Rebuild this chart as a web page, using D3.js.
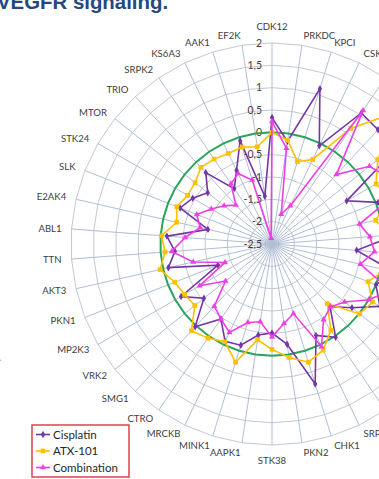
<!DOCTYPE html>
<html>
<head>
<meta charset="utf-8">
<script src="https://cdn.jsdelivr.net/npm/d3@7/dist/d3.min.js"></script>
<style>
  html, body { margin: 0; padding: 0; background: #ffffff; overflow: hidden; }
  svg { display: block; }
</style>
</head>
<body>
<svg id="chart" width="379" height="479"></svg>
<script>
// Kinase axes, clockwise from the top
const categories = [
  "CDK12", "PRKDC", "KPCI", "CSK", "KSYK", "FAK1", "MK01", "MK03", "PAK4", "KPCA",
  "EPHA2", "FGFR1", "VGFR2", "SRC", "PLCG1", "MP2K1", "BRAF", "PDPK1", "SRPK1", "CHK1",
  "PKN2", "STK38", "AAPK1", "MINK1", "MRCKB", "CTRO", "SMG1", "VRK2", "MP2K3", "PKN1",
  "AKT3", "TTN", "ABL1", "E2AK4", "SLK", "STK24", "MTOR", "TRIO", "SRPK2", "KS6A3",
  "AAK1", "EF2K"
];

const cisplatin = [
   0.33, -0.18,  1.14, -0.06,  1.05,  0.99,  1.50, -0.57,  0.05,  0.20,
   0.30, -0.60,  0.30,  0.00,  0.29, -0.21, -0.59,  0.03, -0.23,  0.78,
  -0.23, -0.51, -0.44, -0.13, -0.08, -0.47,  0.03, -0.55, -0.15, -1.20,
  -0.12, -0.32, -0.14, -1.03, -0.29, -0.45, -0.66, -0.32, -1.00, -0.67,
  -0.08, -1.42
];

const atx101 = [
   0.00, -0.15, -0.57, -0.40,  0.63,  1.50,  0.53,  0.19,  0.30, -0.12,
   0.15,  0.20,  0.10, -0.19,  0.10,  0.01, -0.68, -0.16,  0.14,  0.27,
   0.07, -0.14, -0.33,  0.27, -0.07,  0.05,  0.15, -0.29, -0.24, -0.16,
   0.07, -0.10, -0.02, -0.31, -0.21, -0.32, -0.30, -0.16, -0.20, -0.25,
  -0.23, -0.30
];

const combination = [
   0.24, -0.33, -1.80, -1.55,  1.12, -0.38,  0.29,  0.50,  0.40, -0.49,
  -0.30, -0.20, -0.47,  0.35,  0.00, -0.42, -0.58, -0.45,  0.05, -0.87,
  -0.70, -0.42, -0.74, -0.66, -0.30, -0.47, -0.60, -1.17, -0.63, -1.37,
  -0.69, -0.25, -0.55, -0.85, -0.69, -0.93, -1.13, -1.31, -0.87, -0.75,
  -1.00, -2.37
];

const ringValues = [-2.5, -2, -1.5, -1, -0.5, 0, 0.5, 1, 1.5, 2];
const tickLabels = ["-2,5", "-2", "-1,5", "-1", "-0,5", "0", "0,5", "1", "1,5", "2"];

const seriesNames = ["Cisplatin", "ATX-101", "Combination"];
const seriesColors = ["#7436a6", "#ffc000", "#f03ee6"];
const seriesShapes = [d3.symbolDiamond, d3.symbolSquare, d3.symbolTriangle];
const seriesData = [cisplatin, atx101, combination];
const baselineValue = 0;

const W = 379, H = 479;
const svg = d3.select("#chart");
const cx = 272, cy = 244, R = 201;

const r = d3.scaleLinear().domain([-2.5, 2]).range([0, R]);
const angle = d3.scaleLinear().domain([0, categories.length]).range([0, 2 * Math.PI]);
const idx = d3.range(categories.length);

const g = svg.append("g").attr("transform", `translate(${cx},${cy})`);

// Heading (runs off the top edge of the panel)
svg.append("text")
  .attr("x", -3).attr("y", 9)
  .attr("font-family", "'Liberation Sans', Arial, sans-serif")
  .attr("font-weight", "bold")
  .attr("font-size", 20.4)
  .attr("fill", "#24487f")
  .text("VEGFR signaling.");

// Stray full stop of the caption column at the left edge
svg.append("text")
  .attr("x", -2).attr("y", 361)
  .attr("font-family", "'Liberation Sans', Arial, sans-serif")
  .attr("font-size", 12)
  .attr("fill", "#333333")
  .text(".");

// Spider-web rings
const ringLine = d3.lineRadial()
  .angle(i => angle(i))
  .curve(d3.curveLinearClosed);

g.selectAll("path.ring")
  .data(ringValues.slice(1))
  .join("path")
  .attr("class", "ring")
  .attr("d", v => ringLine.radius(() => r(v))(idx))
  .attr("fill", "none")
  .attr("stroke", "#c3c9d3")
  .attr("stroke-width", 1);

// Radial spokes
g.selectAll("line.spoke")
  .data(idx)
  .join("line")
  .attr("class", "spoke")
  .attr("x1", 0).attr("y1", 0)
  .attr("x2", i => r(2) * Math.sin(angle(i)))
  .attr("y2", i => -r(2) * Math.cos(angle(i)))
  .attr("stroke", "#b0bed6")
  .attr("stroke-width", 1);

// Value labels along the top spoke
g.selectAll("text.tick")
  .data(ringValues)
  .join("text")
  .attr("class", "tick")
  .attr("x", -10)
  .attr("y", v => -r(v))
  .attr("dy", "0.35em")
  .attr("text-anchor", "end")
  .attr("font-family", "Lato, sans-serif")
  .attr("font-size", 10.5)
  .attr("fill", "#404040")
  .text((v, k) => tickLabels[k]);

// Category labels; those whose anchor falls past the right edge of the panel are not drawn
const labelR = R + 10;
const labelPos = i => {
  const a = angle(i);
  return { s: Math.sin(a), c: Math.cos(a), x: labelR * Math.sin(a), y: -labelR * Math.cos(a) };
};
const shownLabels = idx.filter(i => cx + labelPos(i).x < W - 8);

g.selectAll("text.cat")
  .data(shownLabels)
  .join("text")
  .attr("class", "cat")
  .each(function (i) {
    const p = labelPos(i);
    const sel = d3.select(this);
    if (Math.abs(p.s) < 0.01) {
      sel.attr("x", p.x).attr("y", p.y - p.c * 6).attr("text-anchor", "middle");
    } else {
      sel.attr("x", p.x).attr("y", p.y).attr("text-anchor", p.s > 0 ? "start" : "end");
    }
  })
  .attr("dy", "0.35em")
  .attr("font-family", "Lato, sans-serif")
  .attr("font-size", 9.6)
  .attr("fill", "#404040")
  .text(i => categories[i]);

// Zero reference ring
g.append("path")
  .attr("d", ringLine.radius(() => r(baselineValue))(idx))
  .attr("fill", "none")
  .attr("stroke", "#2aa55c")
  .attr("stroke-width", 2);

// Series lines and markers
seriesData.forEach((vals, s) => {
  const line = d3.lineRadial()
    .angle(i => angle(i))
    .radius(i => r(vals[i]))
    .curve(d3.curveLinearClosed);
  g.append("path")
    .attr("d", line(idx))
    .attr("fill", "none")
    .attr("stroke", seriesColors[s])
    .attr("stroke-width", 1.6);
  g.selectAll(null)
    .data(idx)
    .join("path")
    .attr("transform", i => `translate(${r(vals[i]) * Math.sin(angle(i))},${-r(vals[i]) * Math.cos(angle(i))})`)
    .attr("d", d3.symbol().type(seriesShapes[s]).size(s === 1 ? 22 : 16))
    .attr("fill", seriesColors[s]);
});

// Legend
const legend = svg.append("g").attr("transform", "translate(32,425)");
legend.append("rect")
  .attr("x", 0).attr("y", 0)
  .attr("width", 97).attr("height", 52)
  .attr("fill", "#ffffff")
  .attr("stroke", "#e0404e")
  .attr("stroke-width", 1.5);
seriesNames.forEach((name, s) => {
  const y = 9.5 + s * 16.5;
  legend.append("line")
    .attr("x1", 4).attr("x2", 18).attr("y1", y).attr("y2", y)
    .attr("stroke", seriesColors[s]).attr("stroke-width", 1.6);
  legend.append("path")
    .attr("transform", `translate(11,${y})`)
    .attr("d", d3.symbol().type(seriesShapes[s]).size(s === 1 ? 22 : 16))
    .attr("fill", seriesColors[s]);
  legend.append("text")
    .attr("x", 21).attr("y", y)
    .attr("dy", "0.35em")
    .attr("font-family", "Lato, sans-serif")
    .attr("font-size", 11.5)
    .attr("fill", "#262626")
    .text(name);
});
</script>
</body>
</html>
